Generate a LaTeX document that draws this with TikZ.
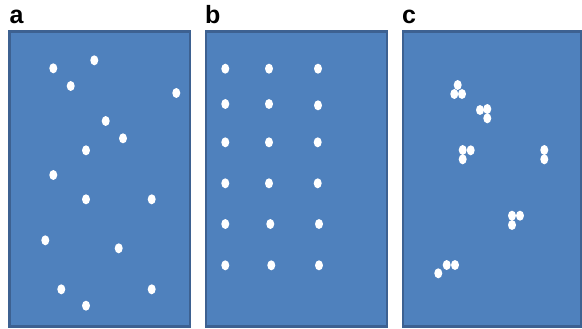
\documentclass[tikz,border=0pt]{standalone}
\usepackage{fontspec}
\setmainfont{Liberation Sans}
\definecolor{panelfill}{HTML}{4F81BD}
\definecolor{panelline}{HTML}{3D6191}
\begin{document}
\begin{tikzpicture}[x=1pt,y=-1pt,
  panel/.style={fill=panelfill,draw=panelline,line width=2.6pt},
  dot/.style={fill=white,draw=none},
  lab/.style={anchor=base west,inner sep=0pt,font=\fontsize{25}{25}\selectfont\bfseries}]
\useasboundingbox (0,0) rectangle (582,329);
% panels
\path[panel] (9.3,31.8) rectangle (189.8,326.5);
\path[panel] (205.8,31.8) rectangle (386.8,326.5);
\path[panel] (402.8,31.8) rectangle (581.2,326.5);
% labels
\node[lab] (la) at (9.5,24) {a};
\node[lab] (lb) at (205,24) {b};
\node[lab] (lc) at (402,24) {c};
% panel a dots
\foreach \x/\y in {53.3/68.3, 94.3/60.3, 70.7/86, 176.3/93, 105.7/121, 123/138.3,
  86/150.3, 53.3/175, 86/199.3, 151.7/199.3, 45.3/240.3, 118.7/248.3,
  61.3/289.3, 151.7/289.3, 86/305.7}
  \fill[dot] (\x,\y) ellipse [x radius=4, y radius=5];
% panel b dots
\foreach \x/\y in {225.3/68.7, 269/68.7, 318/68.7,
  225.3/104, 269/104, 318/105.3,
  225.3/142.3, 269/142.3, 317.7/142.3,
  225.3/183.3, 269/183.3, 317.7/183.3,
  225.3/224, 270.3/224, 319/224,
  225.3/265.3, 271.3/265.3, 319/265.3}
  \fill[dot] (\x,\y) ellipse [x radius=4, y radius=5];
% panel c dots (clusters)
\foreach \x/\y in {457.7/85, 454.3/94, 462/94,
  480/110, 487.3/109, 487.3/118.3,
  462.7/150, 462.7/159.3, 470.7/150.3,
  544.3/150, 544.3/159.3,
  512/215.7, 512/225, 520/215.7,
  438.3/273.3, 446.7/265, 455/265}
  \fill[dot] (\x,\y) ellipse [x radius=4, y radius=5];
\end{tikzpicture}
\end{document}
